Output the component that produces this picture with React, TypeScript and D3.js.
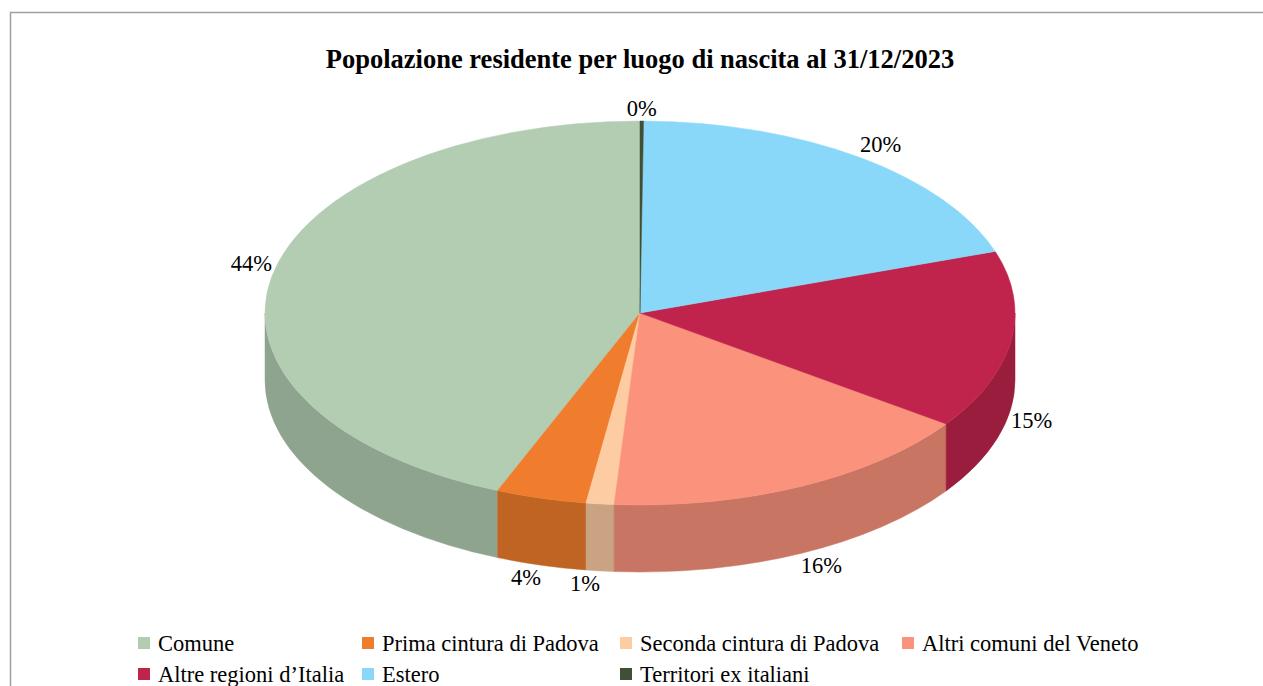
import React from "react";
import * as d3 from "d3";

const categories = [
  "Comune",
  "Prima cintura di Padova",
  "Seconda cintura di Padova",
  "Altri comuni del Veneto",
  "Altre regioni d\u2019Italia",
  "Estero",
  "Territori ex italiani",
];
const values = [43.8, 3.9, 1.2, 16.3, 15.0, 19.65, 0.15];
const colors = ["#b3cdb3", "#f07d2d", "#fdcca2", "#fb927c", "#c0244c", "#8ad8f9", "#404f35"];
const title = "Popolazione residente per luogo di nascita al 31/12/2023";

const W = 1263;
const H = 686;
const cx = 640;
const cy = 313;
const rx = 375;
const ry = 192;
const depth = 67;
const FONT = "'Liberation Serif', 'Times New Roman', serif";

function pt(a: number, dy = 0): [number, number] {
  return [cx + rx * Math.sin(a), cy - ry * Math.cos(a) + dy];
}

function shade(c: string, k: number) {
  const r = d3.rgb(c);
  return d3.rgb(r.r * k, r.g * k, r.b * k).formatHex();
}

export default function App() {
  const total = d3.sum(values);
  const pie = d3
    .pie<number>()
    .sort(null)
    .startAngle(0)
    .endAngle(-2 * Math.PI);
  const arcs = pie(values).map((d, i) => {
    let a0 = Math.min(d.startAngle, d.endAngle);
    let a1 = Math.max(d.startAngle, d.endAngle);
    a0 += 2 * Math.PI;
    a1 += 2 * Math.PI;
    return { a0, a1, i, v: d.data };
  });

  const tops = arcs.map(({ a0, a1, i }) => {
    const p0 = pt(a0);
    const p1 = pt(a1);
    const large = a1 - a0 > Math.PI ? 1 : 0;
    const d = `M${cx},${cy}L${p0[0]},${p0[1]}A${rx},${ry} 0 ${large} 1 ${p1[0]},${p1[1]}Z`;
    return <path key={"t" + i} d={d} fill={colors[i]} stroke={colors[i]} strokeWidth={0.5} />;
  });

  const walls: React.ReactElement[] = [];
  arcs.forEach(({ a0, a1, i }) => {
    const s = Math.max(a0, Math.PI / 2);
    const e = Math.min(a1, (3 * Math.PI) / 2);
    if (e <= s) return;
    const t0 = pt(s);
    const t1 = pt(e);
    const b0 = pt(s, depth);
    const b1 = pt(e, depth);
    const d = `M${t0[0]},${t0[1]}A${rx},${ry} 0 0 1 ${t1[0]},${t1[1]}L${b1[0]},${b1[1]}A${rx},${ry} 0 0 0 ${b0[0]},${b0[1]}Z`;
    walls.push(<path key={"w" + i} d={d} fill={shade(colors[i], 0.8)} stroke={shade(colors[i], 0.8)} strokeWidth={0.5} />);
  });

  const fmt = d3.format(".0%");
  const labels = arcs.map(({ a0, a1, i, v }) => {
    const m = (a0 + a1) / 2;
    const s = Math.sin(m);
    const c = Math.cos(m);
    const [x, y] = pt(m, c < 0 ? depth : 0);
    const anchor = s > 0.1 ? "start" : s < -0.1 ? "end" : "middle";
    const by = c < 0 ? y + 20 : y - 5;
    return (
      <text key={"l" + i} x={x} y={by} textAnchor={anchor} fontFamily={FONT} fontSize={22.5} fill="#000">
        {fmt(v / total)}
      </text>
    );
  });

  const legendX = [138, 362, 620, 902];
  const legendY = [643, 674];
  const legend = categories.map((name, i) => {
    const col = i % 4;
    const row = Math.floor(i / 4);
    const x = legendX[col];
    const y = legendY[row];
    return (
      <g key={"g" + i}>
        <rect x={x} y={y - 6} width={12} height={12} fill={colors[i]} />
        <text x={x + 20} y={y + 8} fontFamily={FONT} fontSize={22.5} fill="#000">
          {name}
        </text>
      </g>
    );
  });

  return (
    <svg width={W} height={H} style={{ position: "absolute", left: 0, top: 0, background: "#fff" }}>
      <rect x={10.5} y={12.5} width={1400} height={800} fill="#fff" stroke="#a0a0a0" strokeWidth={1.5} />
      <text x={640} y={68} textAnchor="middle" fontFamily={FONT} fontWeight="bold" fontSize={26.5} fill="#000">
        {title}
      </text>
      {walls}
      {tops}
      {labels}
      {legend}
    </svg>
  );
}
